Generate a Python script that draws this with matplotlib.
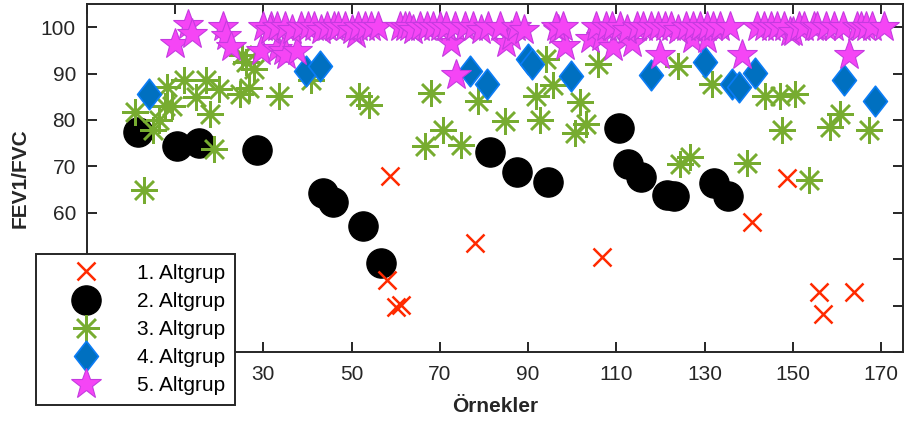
import matplotlib
matplotlib.use("Agg")
import matplotlib.pyplot as plt
from matplotlib.path import Path

plt.rcParams['font.family'] = ['Liberation Sans', 'DejaVu Sans']

# Group 1: red crosses
g1_x = [58.6, 58.0, 60.0, 61.3, 78.0, 106.7, 140.8, 148.7, 155.9, 156.8, 163.8]
g1_y = [68.0, 45.6, 39.7, 40.2, 53.5, 50.5, 58.1, 67.6, 43.0, 38.2, 43.0]

# Group 2: black circles
g2_x = [1.5, 10.5, 15.5, 28.6, 43.5, 45.8, 52.5, 56.6, 81.4, 87.5, 94.5,
        110.5, 112.6, 115.5, 121.6, 123.0, 132.2, 135.4]
g2_y = [77.5, 74.5, 75.1, 73.6, 64.3, 62.4, 57.2, 49.2, 73.2, 68.7, 66.7,
        78.2, 70.6, 67.8, 63.9, 63.7, 66.5, 63.7]

# Group 3: green asterisks
g3_x = [0.8, 2.9, 4.9, 6.3, 7.6, 8.1, 9.2, 11.9, 14.6, 16.9, 17.8, 18.9, 20.0,
        24.8, 25.2, 26.1, 26.8, 27.9, 33.6, 40.8, 51.6, 53.9, 66.7, 67.9, 70.8,
        74.7, 78.7, 84.8, 91.8, 92.7, 94.1, 95.6, 100.6, 101.7, 103.1, 105.8,
        123.9, 124.5, 126.8, 131.8, 139.7, 143.7, 147.1, 147.6, 150.5, 153.7,
        158.4, 160.7, 167.4]
g3_y = [81.8, 65.0, 77.9, 80.1, 83.0, 87.2, 83.1, 88.7, 84.9, 88.7, 81.2, 73.8, 86.6,
        85.5, 94.1, 92.4, 86.8, 90.9, 85.1, 88.7, 85.1, 83.3, 74.5, 85.9, 77.9,
        74.7, 84.0, 79.7, 85.1, 80.1, 93.1, 87.5, 77.3, 83.8, 79.2, 92.0,
        91.6, 70.6, 72.1, 87.7, 70.8, 85.1, 85.1, 77.9, 85.5, 67.1,
        78.4, 81.2, 77.9]

# Group 4: blue diamonds
g4_x = [4.0, 39.7, 42.8, 76.9, 80.7, 90.0, 90.9, 99.7, 117.8, 130.0, 136.3,
        137.9, 141.5, 161.6, 168.6]
g4_y = [85.7, 90.5, 91.6, 90.5, 87.7, 93.1, 92.0, 89.4, 89.8, 92.4, 87.7,
        87.2, 90.2, 88.7, 84.0]

# Group 5: magenta stars
g5_x = [9.9, 13.0, 13.7, 20.9, 21.6, 22.7, 29.5, 31.8, 33.1, 34.5, 35.1, 37.6,
        50.9, 72.6, 73.7, 85.0, 86.2, 96.8, 98.4, 104.0, 106.5, 109.2, 113.5,
        119.8, 127.2, 130.6, 138.5, 149.4, 162.7,
        30.0, 31.5, 33.0, 35.0, 36.5, 38.5, 40.0, 41.5, 43.0, 44.5, 46.0, 47.0,
        48.5, 50.0, 51.5, 53.0, 54.5, 56.0, 61.0, 62.0, 63.0, 64.0, 65.5, 67.0,
        68.5, 70.0, 71.5, 73.5, 75.8, 77.5, 79.4, 81.0, 83.7, 87.3, 89.0, 96.3,
        98.0, 105.5, 107.6, 109.0, 110.8, 112.5, 114.8, 116.0, 117.8, 119.5,
        121.0, 122.5, 124.0, 125.7, 127.5, 129.0, 130.5, 132.0, 133.6, 135.8,
        142.0, 143.5, 145.0, 146.5, 148.0, 150.0, 151.5, 152.5, 154.8, 155.5,
        157.5, 159.3, 161.5, 164.5, 165.5, 166.7, 168.0, 170.6]
g5_y = [96.3, 100.4, 98.5, 100.0, 98.0, 95.7, 94.8, 100.0, 95.2, 94.8, 94.1, 94.8,
        98.5, 96.7, 89.8, 96.7, 98.0, 99.5, 95.9, 97.4, 97.8, 95.7, 96.7,
        94.1, 97.4, 97.4, 94.1, 98.9, 94.1,
        100.0, 99.5, 100.0, 100.0, 99.5, 100.0, 100.0, 100.0, 99.5, 100.0, 100.0, 100.0,
        100.0, 99.5, 100.0, 100.0, 100.0, 100.0, 100.0, 100.0, 100.0, 99.5, 100.0, 100.0,
        100.0, 100.0, 100.0, 100.0, 100.0, 100.0, 99.5, 100.0, 100.0, 100.0, 99.5, 100.0,
        100.0, 100.0, 100.0, 100.0, 100.0, 99.5, 100.0, 100.0, 100.0, 100.0,
        100.0, 100.0, 99.5, 100.0, 100.0, 100.0, 100.0, 100.0, 100.0, 100.0,
        100.0, 100.0, 100.0, 100.0, 100.0, 99.0, 100.0, 100.0, 100.0, 100.0,
        100.0, 100.0, 100.0, 100.0, 100.0, 100.0, 100.0, 100.0]

labels = ["1. Altgrup", "2. Altgrup", "3. Altgrup", "4. Altgrup", "5. Altgrup"]
x_ticks = [-10, 10, 30, 50, 70, 90, 110, 130, 150, 170]
x_tick_labels = ["", "", "30", "50", "70", "90", "110", "130", "150", "170"]
y_ticks = [30, 40, 50, 60, 70, 80, 90, 100]
y_tick_labels = ["", "", "", "60", "70", "80", "90", "100"]

diamond = Path([(0, 1), (0.78, 0), (0, -1), (-0.78, 0), (0, 1)],
               [Path.MOVETO, Path.LINETO, Path.LINETO, Path.LINETO, Path.CLOSEPOLY])

fig = plt.figure(figsize=(9.05, 4.23), dpi=100)
ax = fig.add_axes([87 / 905, 1 - 352 / 423, 816 / 905, 348 / 423])

h1, = ax.plot(g1_x, g1_y, linestyle='none', marker='x', markersize=13,
              markeredgewidth=1.8, color='#FF2A00', zorder=6)
h2, = ax.plot(g2_x, g2_y, linestyle='none', marker='o', markersize=21,
              markerfacecolor='black', markeredgecolor='black', zorder=2)
h3, = ax.plot(g3_x, g3_y, linestyle='none', marker=(8, 2, 0), markersize=19,
              markeredgewidth=1.8, color='#77AC30', zorder=3)
h4, = ax.plot(g4_x, g4_y, linestyle='none', marker=diamond, markersize=22,
              markerfacecolor='#0070C0', markeredgecolor='#0A7CF5',
              markeredgewidth=1.2, zorder=4)
h5, = ax.plot(g5_x, g5_y, linestyle='none', marker='*', markersize=23,
              markerfacecolor='#F545F5', markeredgecolor='#C53AE0',
              markeredgewidth=0.8, zorder=5)

ax.set_xlim(-10, 175)
ax.set_ylim(30, 105)
ax.set_xticks(x_ticks)
ax.set_xticklabels(x_tick_labels)
ax.set_yticks(y_ticks)
ax.set_yticklabels(y_tick_labels)
ax.tick_params(direction='in', length=7, width=1.4, top=True, right=True,
               labelsize=15, colors='#262626')
ax.tick_params(axis='x', pad=9)
ax.tick_params(axis='y', pad=8)
for s in ax.spines.values():
    s.set_linewidth(1.4)
    s.set_color('#262626')

ax.set_xlabel("Örnekler", fontsize=15, fontweight='bold', color='#262626', labelpad=10)
ax.set_ylabel("FEV1/FVC", fontsize=15, fontweight='bold', color='#262626', labelpad=8)

leg = fig.legend([h1, h2, h3, h4, h5], labels, loc='upper left',
                 bbox_to_anchor=(36 / 905, 1 - 254 / 423), fontsize=15,
                 frameon=True, fancybox=False, framealpha=1, edgecolor='#262626',
                 handlelength=3.85, handletextpad=0.53, labelspacing=0.44,
                 borderpad=0.47, borderaxespad=0)
leg.get_frame().set_linewidth(1.4)
leg.set_zorder(10)

fig.savefig("out.png", dpi=100)
